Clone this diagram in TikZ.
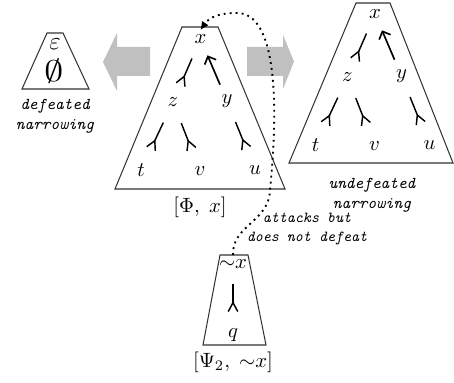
\documentclass[tikz,border=0pt]{standalone}
\usepackage{xcolor}
\usepackage{tikz}
\usetikzlibrary{arrows.meta,positioning}
\definecolor{shade}{HTML}{C0C0C0}
\definecolor{edgegray}{HTML}{333333}
\tikzset{
  lbl/.style={inner sep=2pt},
  trap/.style={draw=edgegray, line width=0.5pt},
  defrule/.style={line width=0.7pt, -{Straight Barb[reversed, length=4.3pt, width=4.6pt]}, shorten <=11pt, shorten >=11pt},
  strict/.style={line width=0.8pt, -{Straight Barb[length=3pt, width=6pt]}, shorten <=8.6pt, shorten >=8.6pt},
  attack/.style={dotted, line width=0.9pt, -{Latex[length=4pt, width=4pt]}},
  bigarrow/.style={fill=shade, draw=none},
  caption/.style={font=\ttfamily\itshape\footnotesize, align=center, inner sep=0pt},
  remark/.style={font=\ttfamily\itshape\fontsize{7.4}{9.2}\selectfont, align=center, inner sep=0pt}
}

\begin{document}
\begin{tikzpicture}[x=0.017cm, y=-0.017cm]
  \useasboundingbox (0,0) rectangle (454,383);

  \draw[trap] (47,33) -- (63,33) -- (89,89) -- (22,89) -- cycle;
  \node[lbl] (dE) at (55,44) {\large$\varepsilon$};
  \node[lbl, xscale=1.3, transform shape] (dO) at (54,71) {\Large$\emptyset$};
  \node[caption] (dcap) at (55,116) {defeated\\narrowing};

  \fill[bigarrow] (150,47) -- (117,47) -- (117,33) -- (103,62) -- (117,91) -- (117,76) -- (150,76) -- cycle;
  \fill[bigarrow] (247,47) -- (283,47) -- (283,35) -- (294,61.5) -- (283,89) -- (283,76) -- (247,76) -- cycle;

  \draw[trap] (182,27) -- (218,27) -- (285,189) -- (115,189) -- cycle;
  \node[lbl] (ax) at (200.5,39) {$x$};
  \node[lbl] (az) at (173,102) {$z$};
  \node[lbl] (ay) at (227,101) {$y$};
  \node[lbl] (at) at (141,170) {$t$};
  \node[lbl] (av) at (200,171) {$v$};
  \node[lbl] (au) at (255,170) {$u$};
  \node (acap) at (200,207) {$[\Phi,\;x]$};

  \draw[defrule, shorten <=10.3pt, shorten >=8.8pt] (ax.center) -- (az.center);
  \draw[strict] (ay.center) -- (ax.center);
  \draw[defrule] (az.center) -- (at.center);
  \draw[defrule] (az.center) -- (av.center);
  \draw[defrule] (ay.center) -- (au.center);

  \draw[trap] (356,3) -- (390,3) -- (453,163) -- (289,163) -- cycle;
  \node[lbl] (cx) at (375,14) {$x$};
  \node[lbl] (cz) at (347.5,77) {$z$};
  \node[lbl] (cy) at (401.5,76) {$y$};
  \node[lbl] (ct) at (315.5,145) {$t$};
  \node[lbl] (cv) at (374.5,146) {$v$};
  \node[lbl] (cu) at (429.5,145) {$u$};
  \node[caption] (ccap) at (372,195) {undefeated\\narrowing};

  \draw[defrule, shorten <=10.3pt, shorten >=8.8pt] (cx.center) -- (cz.center);
  \draw[strict] (cy.center) -- (cx.center);
  \draw[defrule] (cz.center) -- (ct.center);
  \draw[defrule] (cz.center) -- (cv.center);
  \draw[defrule] (cy.center) -- (cu.center);

  \draw[trap] (220,255) -- (248,255) -- (266,345) -- (203,345) -- cycle;
  \node[lbl] (bx) at (233,264) {${\sim}x$};
  \node[lbl] (bq) at (233,335) {$q$};
  \node (bcap) at (233,362) {$[\Psi_2,\;{\sim}x]$};
  \draw[defrule, shorten <=9.7pt] (bx.center) -- (bq.center);

  \draw[attack] (bx.north) .. controls (232,225) and (269,222) .. (270,190)
    .. controls (279,100) and (276,13) .. (237,13)
    .. controls (222,13) and (210,16) .. (ax.north);
  \node[remark] (atk) at (307,229) {attacks but\\does not defeat};
\end{tikzpicture}
\end{document}
